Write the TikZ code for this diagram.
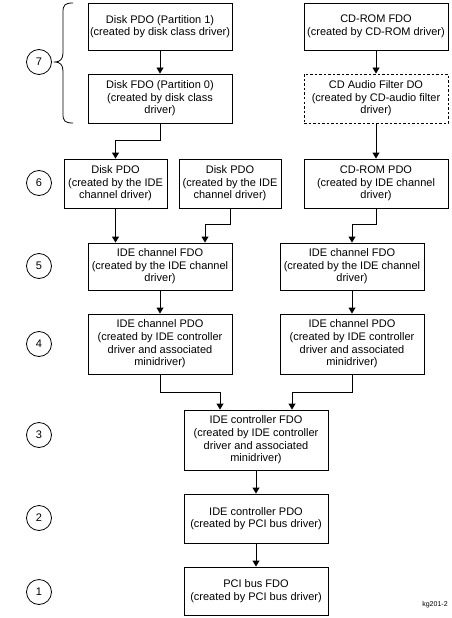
\documentclass[tikz,border=0pt]{standalone}
\usepackage{fontspec}
\setmainfont{Liberation Sans}
\usetikzlibrary{arrows.meta}
\begin{document}
\begin{tikzpicture}[x=1pt,y=-1pt,
  box/.style={draw,line width=0.9pt,minimum width=144pt,inner sep=0pt,align=center,font=\fontsize{11}{12.6}\selectfont},
  dbox/.style={box,dash pattern=on 2.5pt off 2pt},
  lvl/.style={draw,circle,line width=0.8pt,minimum size=25pt,inner sep=0pt,font=\fontsize{11}{13}\selectfont},
  arr/.style={line width=0.9pt,-{Triangle[width=7pt,length=6pt]}}]
\useasboundingbox (0,0) rectangle (451,618);
% boxes
\node[box,minimum height=47pt] (p1) at (160,26.5) {Disk PDO (Partition 1)\\(created by disk class driver)};
\node[box,minimum height=49pt] (dfdo) at (160,98.5) {Disk FDO (Partition 0)\\(created by disk class\\driver)};
\node[box,minimum height=47pt] (cdfdo) at (376,26.5) {CD-ROM FDO\\(created by CD-ROM driver)};
\node[dbox,minimum height=49pt] (cdaf) at (376,98.5) {CD Audio Filter DO\\(created by CD-audio filter\\driver)};
\node[box,minimum width=103pt,minimum height=49pt] (dpdo1) at (115.5,183.5) {Disk PDO\\(created by the IDE\\channel driver)};
\node[box,minimum width=102pt,minimum height=49pt] (dpdo2) at (230,183.5) {Disk PDO\\(created by the IDE\\channel driver)};
\node[box,minimum height=49pt] (cdpdo) at (376,183.5) {CD-ROM PDO\\(created by IDE channel\\driver)};
\node[box,minimum height=47pt] (ifdoL) at (160,266.5) {IDE channel FDO\\(created by the IDE channel\\driver)};
\node[box,minimum height=47pt] (ifdoR) at (352,266.5) {IDE channel FDO\\(created by the IDE channel\\driver)};
\node[box,minimum height=60pt] (ipdoL) at (160,344) {IDE channel PDO\\(created by IDE controller\\driver and associated\\minidriver)};
\node[box,minimum height=60pt] (ipdoR) at (352,344) {IDE channel PDO\\(created by IDE controller\\driver and associated\\minidriver)};
\node[box,minimum height=60pt] (icfdo) at (256,440) {IDE controller FDO\\(created by IDE controller\\driver and associated\\minidriver)};
\node[box,minimum height=49pt] (icpdo) at (256,518.5) {IDE controller PDO\\(created by PCI bus driver)};
\node[box,minimum height=48pt] (pci) at (256,591) {PCI bus FDO\\(created by PCI bus driver)};
% level circles
\node[lvl] (l7) at (39,62) {7};
\node[lvl] (l6) at (39,183) {6};
\node[lvl] (l5) at (39,266) {5};
\node[lvl] (l4) at (39,344) {4};
\node[lvl] (l3) at (39,435) {3};
\node[lvl] (l2) at (39,518) {2};
\node[lvl] (l1) at (39,592) {1};
\node[font=\fontsize{7}{8}\selectfont] (tag) at (435,605) {kg201-2};
% brace
\draw[line width=0.8pt] (73,3) .. controls (65,3) and (63,5) .. (63,12) -- (63,53)
  .. controls (63,59) and (60,62) .. (55,62)
  .. controls (60,62) and (63,65) .. (63,71) -- (63,114)
  .. controls (63,121) and (65,123) .. (73,123);
% connectors
\draw[arr] (p1.south) -- (dfdo.north);
\draw[arr] (cdfdo.south) -- (cdaf.north);
\draw[arr] (cdaf.south) -- (cdpdo.north);
\draw[arr] (dfdo.south) -- ++(0,17) -| (dpdo1.north);
\draw[arr] (dpdo1.south) -- (dpdo1.south |- ifdoL.north);
\draw[arr] (dpdo2.south) -- ++(0,16) -| ([xshift=45pt]ifdoL.north);
\draw[arr] (cdpdo.south) -- ++(0,16) -| (ifdoR.north);
\draw[arr] (ifdoL.south) -- (ipdoL.north);
\draw[arr] (ifdoR.south) -- (ipdoR.north);
\draw[arr] (ipdoL.south) -- ++(0,18) -| ([xshift=-36pt]icfdo.north);
\draw[arr] (ipdoR.south) -- ++(0,18) -| ([xshift=36pt]icfdo.north);
\draw[arr] (icfdo.south) -- (icpdo.north);
\draw[arr] (icpdo.south) -- (pci.north);
\end{tikzpicture}
\end{document}
